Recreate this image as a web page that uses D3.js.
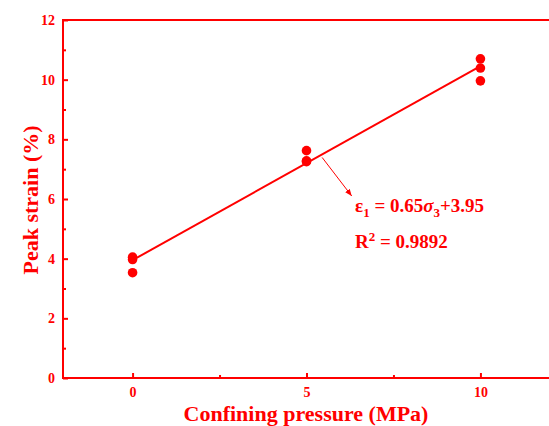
<!DOCTYPE html>
<html>
<head>
<meta charset="utf-8">
<script src="https://cdn.jsdelivr.net/npm/d3@7"></script>
<style>
  body { margin: 0; background: #fff; }
  svg text { font-family: "Liberation Serif", "Times New Roman", serif; font-weight: bold; fill: #ff0000; }
</style>
</head>
<body>
<svg id="chart" width="549" height="426"></svg>
<script>
// measured peak strain (%) at each confining pressure (MPa)
const pressure = [0, 0, 0, 5, 5, 5, 10, 10, 10];
const strain = [4.05, 3.97, 3.53, 7.62, 7.28, 7.25, 10.70, 10.39, 9.96];
const fitSlope = 0.65;
const fitIntercept = 3.95;
const xTicks = [0, 5, 10];
const yTicks = [0, 2, 4, 6, 8, 10, 12];

const red = "#ff0000";
const svg = d3.select("#chart");
const margin = { left: 63, right: 0, top: 20, bottom: 48 };
const width = +svg.attr("width");
const height = +svg.attr("height");

const x = d3.scaleLinear().domain([-2, 12]).range([margin.left, width + 1]);
const y = d3.scaleLinear().domain([0, 12]).range([height - margin.bottom, margin.top]);

// frame
svg.append("rect")
    .attr("x", x(-2))
    .attr("y", y(12))
    .attr("width", x(12) - x(-2))
    .attr("height", y(0) - y(12))
    .attr("fill", "none")
    .attr("stroke", red)
    .attr("stroke-width", 2);

// minor ticks
svg.append("g")
    .attr("transform", `translate(0,${y(0)})`)
    .call(d3.axisTop(x).tickValues([2.5, 7.5]).tickSize(3).tickFormat(""))
    .call(g => g.select(".domain").remove());
svg.append("g")
    .attr("transform", `translate(${x(-2)},0)`)
    .call(d3.axisRight(y).tickValues([1, 3, 5, 7, 9, 11]).tickSize(3).tickFormat(""))
    .call(g => g.select(".domain").remove());

// major ticks (inward) + labels
const xAxis = svg.append("g")
    .attr("transform", `translate(0,${y(0)})`)
    .call(d3.axisTop(x).tickValues(xTicks).tickSize(5).tickFormat(d3.format("d")));
xAxis.select(".domain").remove();
xAxis.selectAll("text").attr("y", 19).attr("font-size", 14);

const yAxis = svg.append("g")
    .attr("transform", `translate(${x(-2)},0)`)
    .call(d3.axisRight(y).tickValues(yTicks).tickSize(5).tickFormat(d3.format("d")));
yAxis.select(".domain").remove();
yAxis.selectAll("text").attr("x", -8).attr("text-anchor", "end").attr("font-size", 14);

svg.selectAll(".tick line").attr("stroke", red).attr("stroke-width", 2);

// fit line
const fitX = [0, 10];
svg.append("path")
    .datum(fitX)
    .attr("fill", "none")
    .attr("stroke", red)
    .attr("stroke-width", 2)
    .attr("d", d3.line().x(d => x(d)).y(d => y(fitSlope * d + fitIntercept)));

// points
svg.selectAll(".pt")
    .data(pressure.map((p, i) => ({ p, s: strain[i] })))
    .enter()
    .append("circle")
    .attr("class", "pt")
    .attr("cx", d => x(d.p))
    .attr("cy", d => y(d.s))
    .attr("r", 4.8)
    .attr("fill", red);

// arrow to equation
svg.append("defs").append("marker")
    .attr("id", "ah")
    .attr("viewBox", "0 0 10 10")
    .attr("refX", 10).attr("refY", 5)
    .attr("markerWidth", 7).attr("markerHeight", 7)
    .attr("orient", "auto")
    .append("path").attr("d", "M0,1 L10,5 L0,9 Z").attr("fill", red);

const ax = 5.45;
svg.append("line")
    .attr("x1", x(ax)).attr("y1", y(fitSlope * ax + fitIntercept) + 3)
    .attr("x2", x(6.3)).attr("y2", y(6.1))
    .attr("stroke", red)
    .attr("stroke-width", 1)
    .attr("marker-end", "url(#ah)");

// equation text
const eq = svg.append("text").attr("x", 355).attr("y", 212).attr("font-size", 19);
eq.append("tspan").text("ε");
eq.append("tspan").text("1").attr("font-size", 13).attr("dy", 5);
eq.append("tspan").text(" = 0.65").attr("dy", -5);
eq.append("tspan").text("σ").attr("font-style", "italic");
eq.append("tspan").text("3").attr("font-size", 13).attr("dy", 5);
eq.append("tspan").text("+3.95").attr("dy", -5);

const r2 = svg.append("text").attr("x", 355).attr("y", 248).attr("font-size", 19);
r2.append("tspan").text("R");
r2.append("tspan").text("2").attr("font-size", 13).attr("dy", -7);
r2.append("tspan").text(" = 0.9892").attr("dy", 7);

// axis titles
svg.append("text")
    .attr("x", 306).attr("y", 421)
    .attr("text-anchor", "middle")
    .attr("font-size", 22)
    .text("Confining pressure (MPa)");

svg.append("text")
    .attr("transform", `translate(38,${y(6) + 1}) rotate(-90)`)
    .attr("text-anchor", "middle")
    .attr("font-size", 22)
    .text("Peak strain (%)");
</script>
</body>
</html>
